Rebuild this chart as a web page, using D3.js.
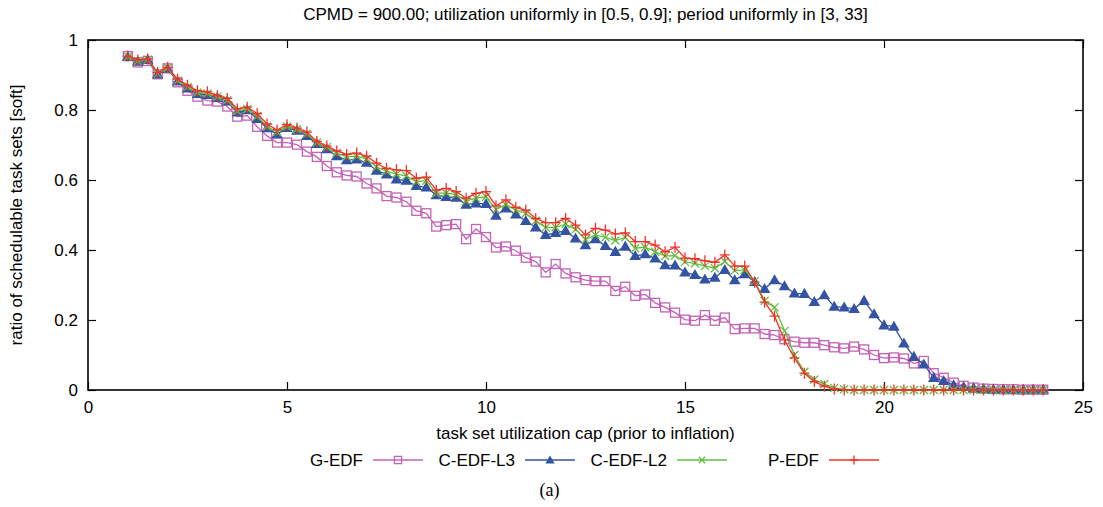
<!DOCTYPE html>
<html><head><meta charset="utf-8">
<script src="https://cdn.jsdelivr.net/npm/d3@7"></script>
<style>
body{margin:0;background:#fff}
svg{display:block}
text{font-family:"Liberation Sans",Arial,Helvetica,sans-serif;fill:#000}
</style></head>
<body><div id="chart"></div>
<script>
// ---------- data ----------
const title = "CPMD = 900.00; utilization uniformly in [0.5, 0.9]; period uniformly in [3, 33]";
const xLabel = "task set utilization cap (prior to inflation)";
const yLabel = "ratio of schedulable task sets [soft]";
const caption = "(a)";
const xTicks = [0, 5, 10, 15, 20, 25];
const yTicks = [0, 0.2, 0.4, 0.6, 0.8, 1];
const seriesNames = ["G-EDF", "C-EDF-L3", "C-EDF-L2", "P-EDF"];

const utilCaps = [1,1.25,1.5,1.75,2,2.25,2.5,2.75,3,3.25,3.5,3.75,4,4.25,4.5,4.75,5,5.25,5.5,5.75,
  6,6.25,6.5,6.75,7,7.25,7.5,7.75,8,8.25,8.5,8.75,9,9.25,9.5,9.75,10,10.25,10.5,10.75,
  11,11.25,11.5,11.75,12,12.25,12.5,12.75,13,13.25,13.5,13.75,14,14.25,14.5,14.75,15,15.25,15.5,15.75,
  16,16.25,16.5,16.75,17,17.25,17.5,17.75,18,18.25,18.5,18.75,19,19.25,19.5,19.75,20,20.25,20.5,20.75,
  21,21.25,21.5,21.75,22,22.25,22.5,22.75,23,23.25,23.5,23.75,24];

const gEDF = [0.954,0.936,0.94,0.902,0.919,0.879,0.855,0.838,0.827,0.824,0.81,0.781,0.784,0.752,0.726,0.707,0.707,0.701,0.681,0.666,
  0.64,0.622,0.613,0.61,0.59,0.576,0.554,0.55,0.538,0.512,0.505,0.467,0.471,0.474,0.431,0.46,0.437,0.407,0.41,0.398,
  0.378,0.367,0.336,0.36,0.333,0.322,0.314,0.311,0.311,0.283,0.295,0.269,0.273,0.249,0.236,0.221,0.201,0.198,0.214,0.198,
  0.207,0.174,0.176,0.176,0.16,0.157,0.145,0.138,0.135,0.135,0.128,0.122,0.119,0.124,0.116,0.1,0.091,0.093,0.09,0.076,
  0.083,0.048,0.035,0.021,0.012,0.007,0.004,0.003,0.002,0.002,0.001,0.001,0.001];

const cEDFL3 = [0.952,0.938,0.943,0.902,0.918,0.882,0.862,0.846,0.843,0.835,0.825,0.793,0.8,0.775,0.748,0.731,0.749,0.741,0.726,0.703,
  0.688,0.668,0.657,0.659,0.65,0.627,0.616,0.602,0.598,0.583,0.579,0.557,0.552,0.55,0.53,0.533,0.532,0.498,0.519,0.502,
  0.483,0.465,0.443,0.449,0.455,0.433,0.414,0.431,0.412,0.395,0.41,0.383,0.388,0.376,0.357,0.356,0.336,0.329,0.316,0.321,
  0.343,0.314,0.331,0.309,0.289,0.314,0.297,0.276,0.275,0.252,0.271,0.238,0.236,0.232,0.255,0.217,0.185,0.181,0.133,0.095,
  0.073,0.035,0.026,0.014,0.009,0.005,0.003,0.002,0.002,0.001,0.001,0.001,0.001];

const cEDFL2 = [0.952,0.94,0.944,0.904,0.92,0.884,0.866,0.85,0.847,0.838,0.828,0.797,0.803,0.782,0.753,0.737,0.753,0.745,0.732,0.707,
  0.694,0.677,0.667,0.668,0.66,0.637,0.625,0.617,0.612,0.595,0.598,0.562,0.563,0.558,0.54,0.548,0.552,0.516,0.53,0.514,
  0.505,0.484,0.464,0.465,0.474,0.459,0.43,0.443,0.436,0.427,0.436,0.405,0.408,0.395,0.383,0.384,0.366,0.362,0.354,0.348,
  0.367,0.341,0.343,0.311,0.255,0.236,0.169,0.1,0.052,0.03,0.017,0.006,0.002,0,0,0,0,0,0,0,
  0,0,0,0,0,0,0,0,0,0,0,0,0];

const pEDF = [0.954,0.943,0.946,0.907,0.922,0.888,0.871,0.855,0.852,0.841,0.833,0.803,0.808,0.79,0.76,0.743,0.758,0.748,0.737,0.71,
  0.697,0.683,0.673,0.677,0.668,0.648,0.633,0.629,0.627,0.605,0.608,0.571,0.576,0.567,0.548,0.562,0.567,0.526,0.543,0.522,
  0.514,0.49,0.478,0.478,0.49,0.471,0.443,0.462,0.457,0.446,0.449,0.424,0.424,0.414,0.395,0.408,0.377,0.375,0.369,0.365,
  0.386,0.354,0.354,0.308,0.251,0.211,0.143,0.092,0.048,0.024,0.011,0.003,0.001,0,0,0,0,0,0,0,
  0,0,0,0,0,0,0,0,0,0,0,0,0];

// ---------- chart ----------
const W = 1103, H = 507;
const svg = d3.select("#chart").append("svg").attr("width", W).attr("height", H);

const x = d3.scaleLinear().domain([0, 25]).range([88, 1083]);
const y = d3.scaleLinear().domain([0, 1]).range([390, 40]);

const colors = ["#c462b4", "#3553a3", "#5fbf3f", "#f2322a"];
const seriesData = [gEDF, cEDFL3, cEDFL2, pEDF];

// title
svg.append("text").attr("x", (x(0)+x(25))/2).attr("y", 19.5).attr("text-anchor", "middle")
  .style("font-size", "17px").text(title);

// axes
const fmtY = d => d === 0 ? "0" : d === 1 ? "1" : d3.format(".1f")(d);
const gx = svg.append("g").attr("transform", `translate(0,${y(0)})`)
  .call(d3.axisBottom(x).tickValues(xTicks).tickSize(-8).tickPadding(11).tickFormat(d3.format("d")));
const gy = svg.append("g").attr("transform", `translate(${x(0)},0)`)
  .call(d3.axisLeft(y).tickValues(yTicks).tickSize(-8).tickPadding(10).tickFormat(fmtY));
const gt = svg.append("g").attr("transform", `translate(0,${y(1)})`)
  .call(d3.axisTop(x).tickValues(xTicks).tickSize(-8).tickFormat(""));
const gr = svg.append("g").attr("transform", `translate(${x(25)},0)`)
  .call(d3.axisRight(y).tickValues(yTicks).tickSize(-8).tickFormat(""));
[gx, gy, gt, gr].forEach(g => {
  g.select(".domain").remove();
  g.selectAll(".tick line").attr("stroke", "#000").attr("stroke-width", 1.2);
  g.selectAll("text").style("font-size", "17px").style("font-family", '"Liberation Sans",Arial,sans-serif').attr("fill", "#000");
});
svg.append("rect").attr("x", x(0)).attr("y", y(1)).attr("width", x(25)-x(0)).attr("height", y(0)-y(1))
  .attr("fill", "none").attr("stroke", "#000").attr("stroke-width", 1.6);

// axis titles
svg.append("text").attr("x", (x(0)+x(25))/2).attr("y", 439).attr("text-anchor", "middle")
  .style("font-size", "17px").text(xLabel);
svg.append("text").attr("transform", `translate(22,${(y(0)+y(1))/2}) rotate(-90)`).attr("text-anchor", "middle")
  .style("font-size", "17px").text(yLabel);

// markers
function drawMarker(g, i, cx, cy, s) {
  const c = colors[i];
  if (i === 0) {
    const h = 4.5 * s;
    g.append("rect").attr("x", cx-h).attr("y", cy-h).attr("width", 2*h).attr("height", 2*h)
      .attr("fill", "none").attr("stroke", c).attr("stroke-width", 1.3);
  } else if (i === 1) {
    g.append("path").attr("transform", `translate(${cx},${cy+0.8})`)
      .attr("d", d3.symbol().type(d3.symbolTriangle).size(58 * s * s)()).attr("fill", c);
  } else if (i === 2) {
    const h = 4 * s;
    g.append("path").attr("transform", `translate(${cx},${cy})`)
      .attr("d", `M${-h},${-h}L${h},${h}M${-h},${h}L${h},${-h}`).attr("stroke", c).attr("stroke-width", 1.3).attr("fill", "none");
  } else {
    g.append("path").attr("transform", `translate(${cx},${cy})`)
      .attr("d", `M${-5*s},0L${5*s},0M0,${-5.5*s}L0,${5.5*s}`).attr("stroke", c).attr("stroke-width", 1.3).attr("fill", "none");
  }
}

const line = d3.line().x(d => x(d[0])).y(d => y(d[1]));
seriesData.forEach((vals, i) => {
  const pts = utilCaps.map((u, k) => [u, vals[k]]);
  const g = svg.append("g");
  g.append("path").datum(pts).attr("d", line).attr("fill", "none")
    .attr("stroke", colors[i]).attr("stroke-width", 1.3);
  pts.forEach(p => drawMarker(g, i, x(p[0]), y(p[1]), 1));
});

// legend
const legY = 460;
seriesNames.forEach((name, i) => {
  const tr = 363 + i * 152;
  const g = svg.append("g");
  g.append("text").attr("x", tr).attr("y", legY + 6).attr("text-anchor", "end")
    .style("font-size", "17px").text(name);
  g.append("line").attr("x1", tr + 10).attr("x2", tr + 60).attr("y1", legY).attr("y2", legY)
    .attr("stroke", colors[i]).attr("stroke-width", 1.3);
  drawMarker(g, i, tr + 35, legY, 0.8);
});

// caption
svg.append("text").attr("x", (x(0)+x(25))/2 - 36).attr("y", 496).attr("text-anchor", "middle")
  .style("font-family", '"Liberation Serif","Times New Roman",serif').style("font-size", "18px").text(caption);
</script></body></html>
